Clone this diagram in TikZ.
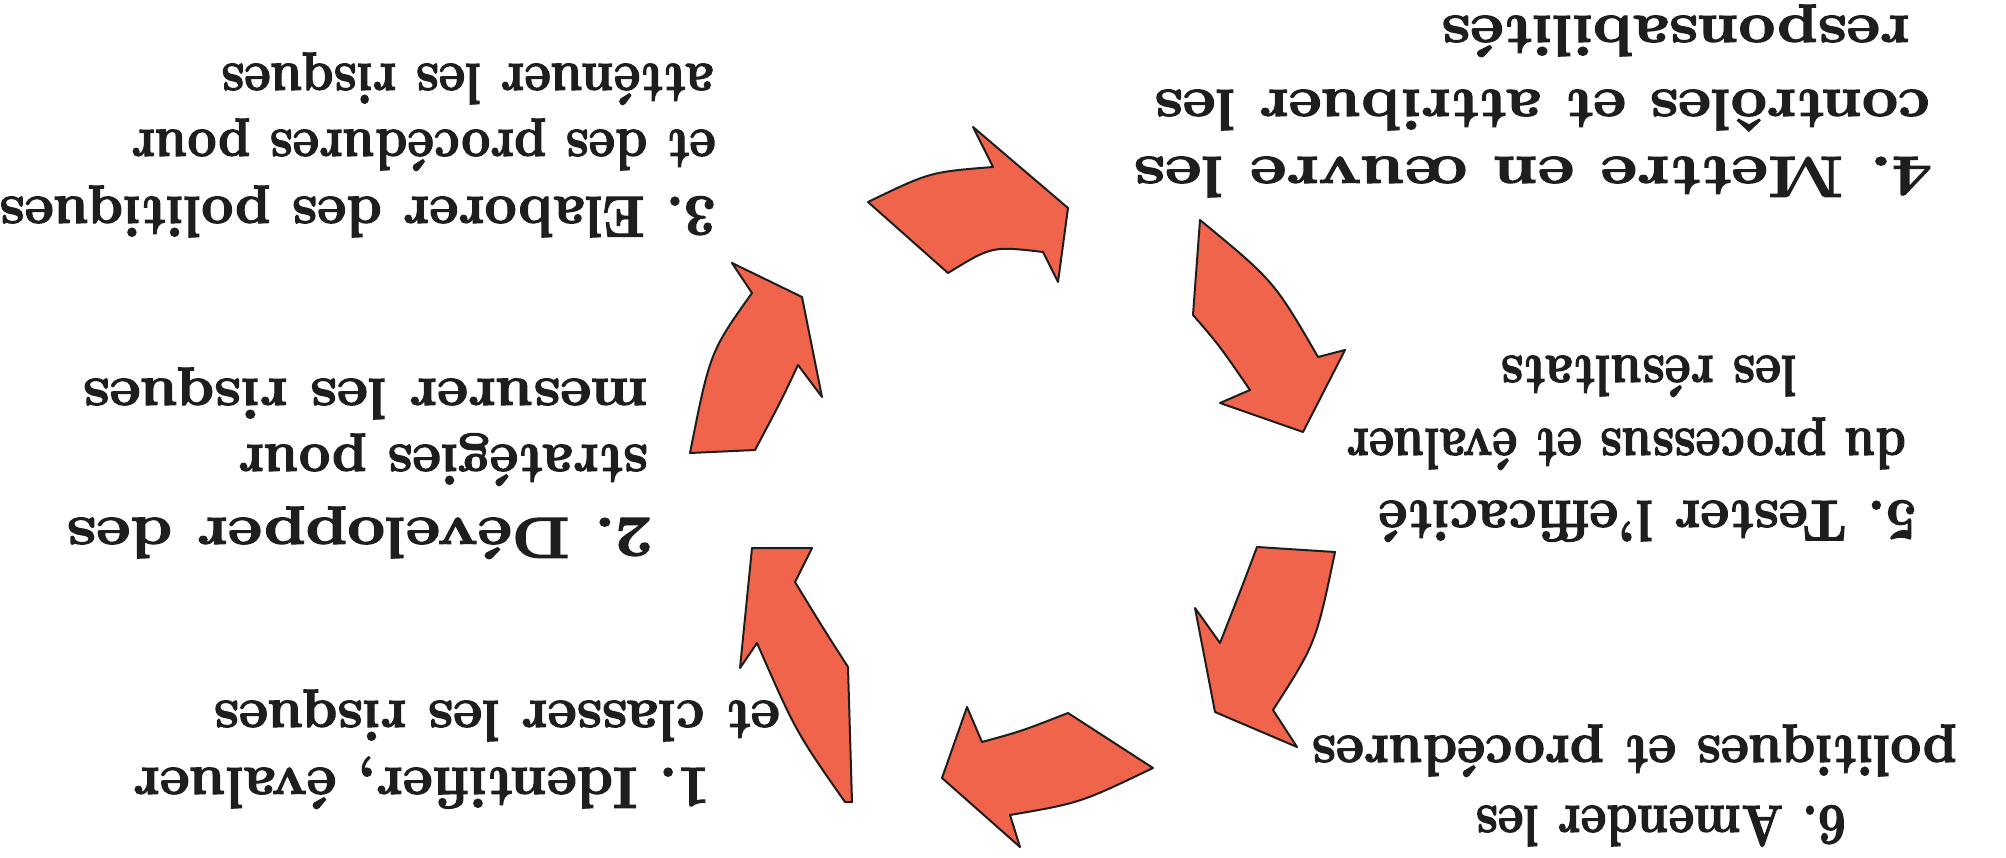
\documentclass[tikz,border=0pt]{standalone}
\usepackage{fontspec}
\usepackage{graphicx}
\setmainfont{Latin Modern Roman}[BoldFeatures={FakeBold=2}]
\frenchspacing
\definecolor{arrowred}{RGB}{240,100,75}
\definecolor{inkc}{RGB}{30,30,30}
\newcommand{\sx}[2]{\scalebox{#1}[1]{#2}}
\begin{document}
\begin{tikzpicture}[x=1pt,y=-1pt,
  arr/.style={fill=arrowred, draw=inkc, line width=2pt, line join=round},
  lbl/.style={font=\fontsize{58}{68}\bfseries\selectfont, text=inkc, rotate=180, anchor=base west, inner sep=0pt}]
\useasboundingbox (0,0) rectangle (2006,858);
\fill[white] (0,0) rectangle (2006,858);

% arrows (clockwise cycle)
\draw[arr] (868,202) .. controls (930,172) .. (993,167) -- (973,127) -- (1068,208) -- (1058,282) -- (1043,252) .. controls (992,246) .. (948,273) -- cycle;
\draw[arr] (1200,220) .. controls (1274,281) .. (1318,357) -- (1345,350) -- (1303,432) -- (1220,403) -- (1250,390) .. controls (1219,345) .. (1193,315) -- cycle;
\draw[arr] (1257,547) -- (1335,552) .. controls (1316,643) .. (1273,710) -- (1297,747) -- (1215,712) -- (1195,608) -- (1220,643) .. controls (1240,592) .. cycle;
\draw[arr] (1068,713) -- (1153,768) .. controls (1080,803) .. (1010,815) -- (1020,847) -- (942,778) -- (967,707) -- (982,742) .. controls (1022,731) .. cycle;
\draw[arr] (845,802) .. controls (796,732) .. (757,643) -- (740,668) -- (752,548) -- (812,548) -- (795,582) .. controls (823,628) .. (848,667) -- (852,802) -- cycle;
\draw[arr] (732,263) -- (802,297) -- (822,397) -- (798,365) .. controls (781,401) .. (755,450) -- (690,453) .. controls (710,352) .. (752,293) -- cycle;

% block 4
\node[lbl] (t4a) at (1932,157) {\sx{1.22}{4. Mettre en œuvre les}};
\node[lbl] (t4b) at (1930,90) {\sx{1.10}{contrôles et attribuer les}};
\node[lbl] (t4c) at (1910,16) {\sx{1.12}{responsabilités}};
% block 3
\node[lbl] (t3a) at (716,197) {\sx{0.98}{3. Elaborer des politiques}};
\node[lbl] (t3b) at (716,130) {\sx{0.89}{et des procédures pour}};
\node[lbl] (t3c) at (714,64) {\sx{0.89}{atténuer les risques}};
% block 2
\node[lbl] (t2a) at (653,518) {\sx{1.15}{2. Développer des}};
\node[lbl] (t2b) at (648,445) {\sx{0.96}{stratégies pour}};
\node[lbl] (t2c) at (648,379) {\sx{1.04}{mesurer les risques}};
% block 1
\node[lbl] (t1a) at (710,768) {\sx{1.0}{1. Identifier, évaluer}};
\node[lbl] (t1b) at (780,701) {\sx{0.98}{et classer les risques}};
% block 5
\node[lbl] (t5a) at (1917,501) {\sx{0.97}{5. Tester l'efficacité}};
\node[lbl] (t5b) at (1906,429) {\sx{0.84}{du processus et évaluer}};
\node[lbl] (t5c) at (1797,356) {\sx{0.87}{les résultats}};
% block 6
\node[lbl] (t6a) at (1846,806) {\sx{0.86}{6. Amender les}};
\node[lbl] (t6b) at (1957,736) {\sx{0.94}{politiques et procédures}};
\end{tikzpicture}
\end{document}
